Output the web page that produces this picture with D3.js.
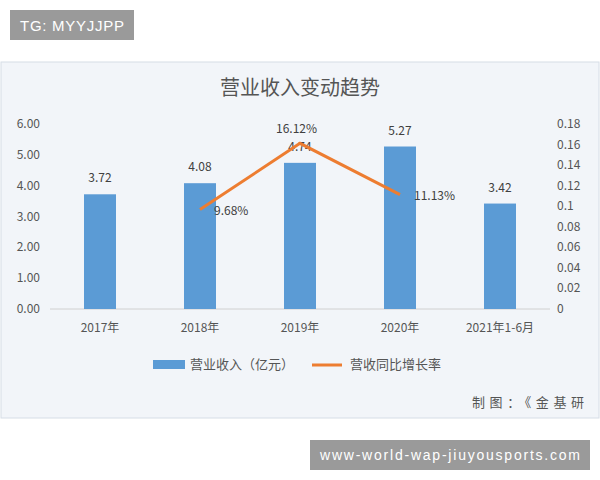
<!DOCTYPE html>
<html><head><meta charset="utf-8">
<script src="https://cdn.jsdelivr.net/npm/d3@7"></script>
<style>body{margin:0;background:#fff;font-family:"Noto Sans CJK SC","Noto Sans",sans-serif}</style>
</head><body>
<svg id="c" width="600" height="480"></svg>
<script>
var categories = ["2017年", "2018年", "2019年", "2020年", "2021年1-6月"];
var revenue = [3.72, 4.08, 4.74, 5.27, 3.42];
var growthCats = ["2018年", "2019年", "2020年"];
var growth = [0.0968, 0.1612, 0.1113];
var growthLabels = ["9.68%", "16.12%", "11.13%"];
var leftTicks = [0, 1, 2, 3, 4, 5, 6];
var rightTicks = [0, 0.02, 0.04, 0.06, 0.08, 0.1, 0.12, 0.14, 0.16, 0.18];

var svg = d3.select("#c");
var font = "Noto Sans CJK SC";

// watermark boxes
svg.append("rect").attr("x", 10).attr("y", 10).attr("width", 124).attr("height", 30).attr("fill", "#9a9a9a");
svg.append("text").attr("x", 20).attr("y", 31).attr("fill", "#fff").attr("font-size", 15).attr("font-family", "Arial")
    .attr("textLength", 104).text("TG: MYYJJPP");

// panel
svg.append("rect").attr("x", 1).attr("y", 62).attr("width", 598).attr("height", 356)
    .attr("fill", "#f2f5f9").attr("stroke", "#d6dde6");

svg.append("text").attr("x", 300).attr("y", 95).attr("text-anchor", "middle")
    .attr("font-size", 20).attr("fill", "#555").attr("font-family", font).text("营业收入变动趋势");

var x = d3.scaleBand().domain(categories).range([50, 550]).paddingInner(0.68).paddingOuter(0.34);
var yL = d3.scaleLinear().domain([0, 6]).range([309, 124]);
var yR = d3.scaleLinear().domain([0, 0.18]).range([309, 124]);

var g = svg.append("g");
g.append("line").attr("x1", 50).attr("x2", 550).attr("y1", 309).attr("y2", 309).attr("stroke", "#d0d0d0");

leftTicks.forEach(function(t){
    g.append("text").attr("x", 40).attr("y", yL(t) + 4).attr("text-anchor", "end")
        .attr("font-size", 12).attr("fill", "#555").attr("font-family", font).text(t.toFixed(2));
});
rightTicks.forEach(function(t){
    g.append("text").attr("x", 557).attr("y", yR(t) + 4)
        .attr("font-size", 12).attr("fill", "#555").attr("font-family", font).text(t === 0 ? "0" : String(+t.toFixed(2)));
});

g.selectAll("rect.bar").data(revenue).enter().append("rect").attr("class", "bar")
    .attr("x", function(d, i){ return x(categories[i]); })
    .attr("width", x.bandwidth())
    .attr("y", function(d){ return yL(d); })
    .attr("height", function(d){ return 309 - yL(d); })
    .attr("fill", "#5b9bd5");

g.selectAll("text.bl").data(revenue).enter().append("text").attr("class", "bl")
    .attr("x", function(d, i){ return x(categories[i]) + x.bandwidth() / 2; })
    .attr("y", function(d){ return yL(d) - 12; })
    .attr("text-anchor", "middle").attr("font-size", 12).attr("fill", "#404040").attr("font-family", font)
    .text(function(d){ return d.toFixed(2); });

categories.forEach(function(c){
    g.append("text").attr("x", x(c) + x.bandwidth() / 2).attr("y", 332).attr("text-anchor", "middle")
        .attr("font-size", 12).attr("fill", "#555").attr("font-family", font).text(c);
});

var line = d3.line().x(function(d, i){ return x(growthCats[i]) + x.bandwidth() / 2; }).y(function(d){ return yR(d); });
g.append("path").datum(growth).attr("d", line).attr("fill", "none").attr("stroke", "#ed7d31").attr("stroke-width", 3);

var lblOff = [[14, 5], [-24, -10], [14, 5]];
growth.forEach(function(v, i){
    g.append("text").attr("x", x(growthCats[i]) + x.bandwidth() / 2 + lblOff[i][0]).attr("y", yR(v) + lblOff[i][1])
        .attr("font-size", 12).attr("fill", "#404040").attr("font-family", font).text(growthLabels[i]);
});

// legend
svg.append("rect").attr("x", 153).attr("y", 360).attr("width", 32).attr("height", 9).attr("fill", "#5b9bd5");
svg.append("text").attr("x", 190).attr("y", 369).attr("font-size", 13).attr("fill", "#555").attr("font-family", font).text("营业收入（亿元）");
svg.append("line").attr("x1", 312).attr("x2", 342).attr("y1", 365).attr("y2", 365).attr("stroke", "#ed7d31").attr("stroke-width", 3);
svg.append("text").attr("x", 350).attr("y", 369).attr("font-size", 13).attr("fill", "#555").attr("font-family", font).text("营收同比增长率");

svg.append("text").attr("x", 472).attr("y", 407).attr("font-size", 13).attr("fill", "#555").attr("font-family", font)
    .attr("textLength", 112).text("制图：《金基研");

svg.append("rect").attr("x", 310).attr("y", 440).attr("width", 280).attr("height", 30).attr("fill", "#9a9a9a");
svg.append("text").attr("x", 450).attr("y", 460).attr("text-anchor", "middle").attr("fill", "#fff").attr("font-size", 14).attr("font-family", "Arial")
    .attr("textLength", 260).text("www-world-wap-jiuyousports.com");
</script>
</body></html>
